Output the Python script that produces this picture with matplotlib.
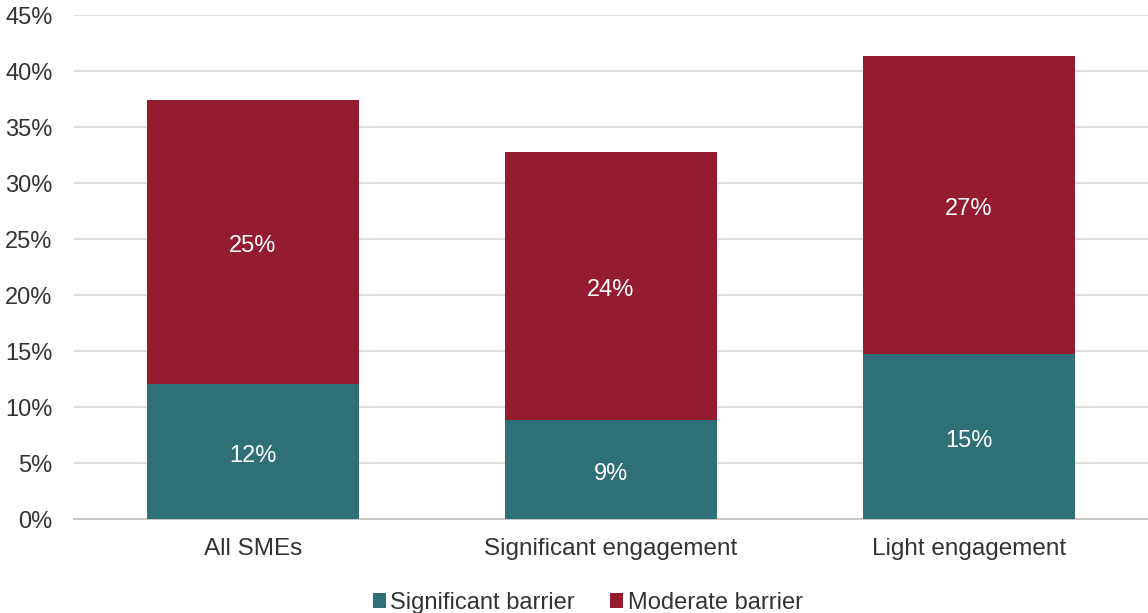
import matplotlib.pyplot as plt
import numpy as np

categories = ['All SMEs', 'Significant engagement', 'Light engagement']
significant = [12.05, 8.85, 14.75]
moderate = [25.35, 23.9, 26.6]
sig_labels = ['12%', '9%', '15%']
mod_labels = ['25%', '24%', '27%']

teal = '#2e6f78'
red = '#951b2f'
text_col = '#333333'

plt.rcParams['font.family'] = ['Liberation Sans', 'DejaVu Sans']

fig = plt.figure(figsize=(11.48, 6.13), dpi=100)
ax = fig.add_axes([0.0645, 0.1533, 0.9355, 0.8222])

x = np.arange(len(categories))
width = 0.59
b1 = ax.bar(x, significant, width, color=teal, label='Significant barrier', zorder=3)
b2 = ax.bar(x, moderate, width, bottom=significant, color=red, label='Moderate barrier', zorder=3)

# segment labels, nudged slightly down from the exact centre
for bars, labels in [(b1, sig_labels), (b2, mod_labels)]:
    for rect, lab in zip(bars, labels):
        cx = rect.get_x() + rect.get_width() / 2
        cy = rect.get_y() + rect.get_height() / 2
        ax.annotate(lab, (cx, cy), xytext=(0, -3), textcoords='offset points',
                    ha='center', va='center', color='white', fontsize=17, zorder=4)

ax.set_xlim(-0.5, len(categories) - 0.5)
ax.set_ylim(0, 45)
ax.set_yticks(np.arange(0, 46, 5))
ax.set_yticklabels([f'{v}%' for v in range(0, 46, 5)])
ax.set_xticks(x)
ax.set_xticklabels(categories)

ax.yaxis.grid(True, color='#e0ddd9', linewidth=1.5, zorder=0)
ax.set_axisbelow(True)
for side in ['top', 'right', 'left']:
    ax.spines[side].set_visible(False)
ax.spines['bottom'].set_color('#c8c8c8')
ax.spines['bottom'].set_linewidth(1.5)

ax.tick_params(axis='both', length=0, labelsize=17, colors=text_col)
ax.tick_params(axis='x', labelsize=17.5, pad=14)
ax.tick_params(axis='y', pad=15.5)

fig.legend(loc='lower center', bbox_to_anchor=(0.512, -0.036), ncol=2, frameon=False,
           fontsize=17, handlelength=0.55, handleheight=0.55, handletextpad=0.2,
           columnspacing=1.5, labelcolor=text_col)

fig.savefig('out.png', dpi=100)
